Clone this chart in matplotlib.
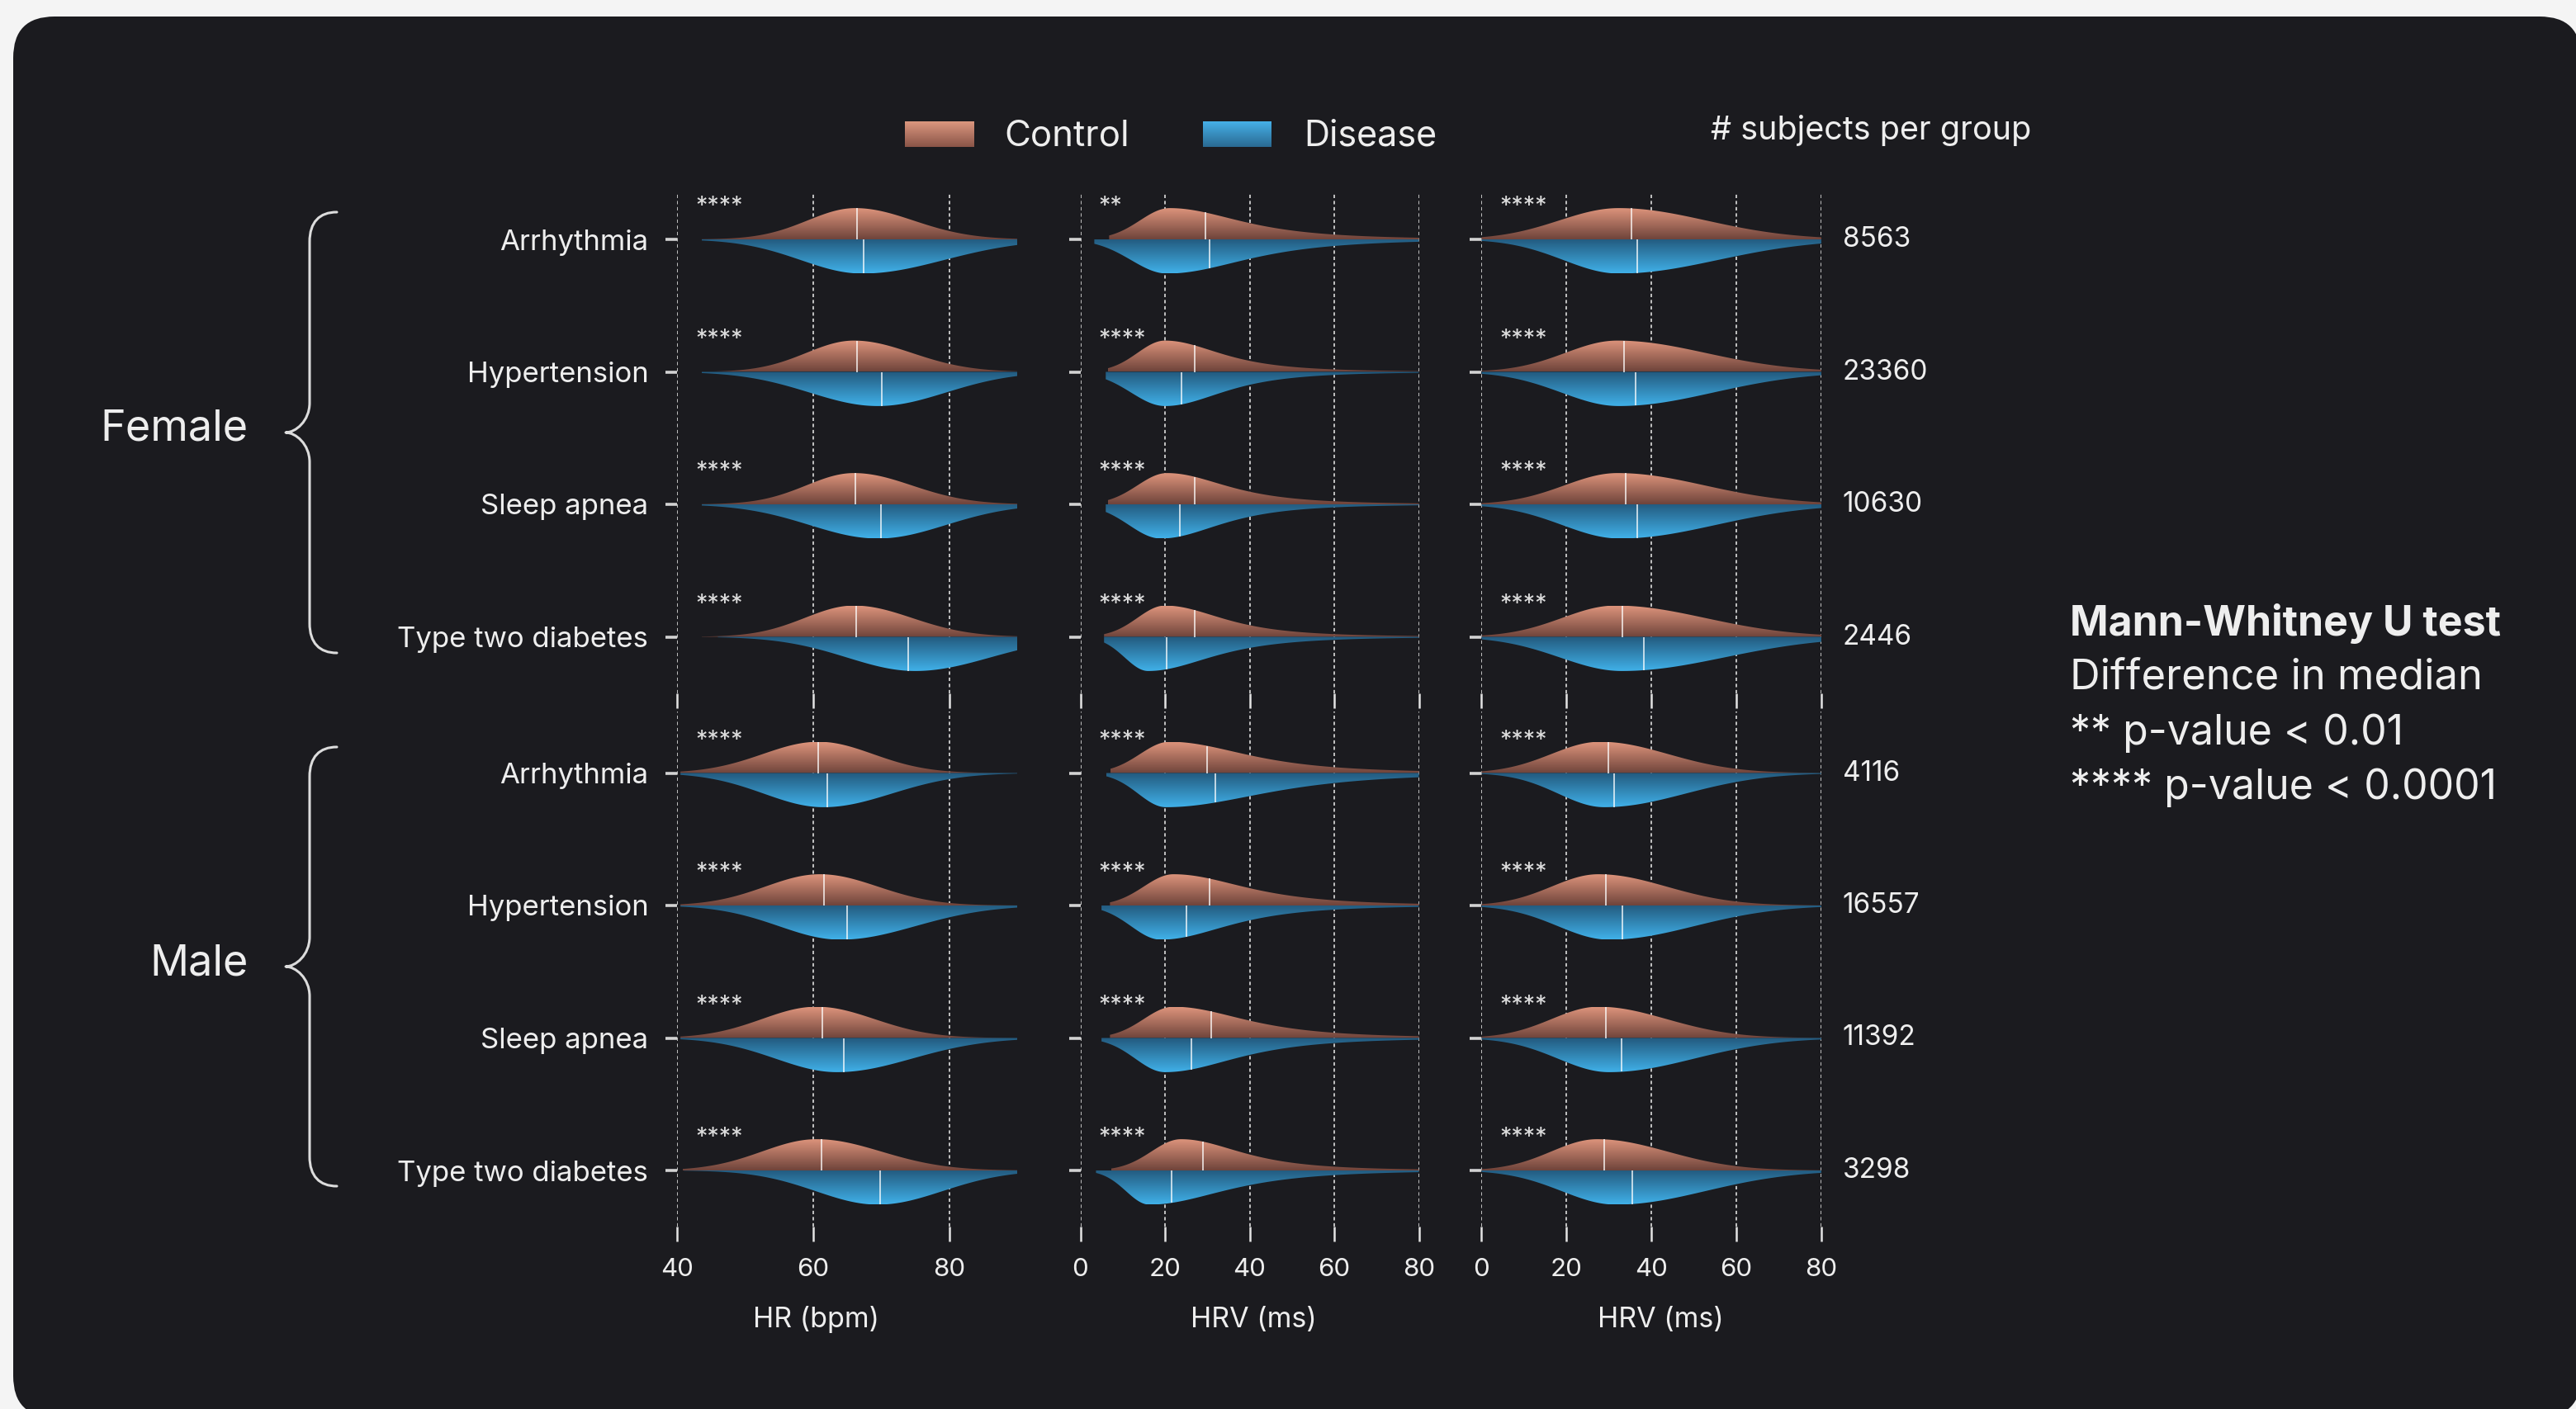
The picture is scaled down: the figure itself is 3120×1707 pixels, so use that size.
import numpy as np
import matplotlib
matplotlib.use("Agg")
import matplotlib.pyplot as plt
from matplotlib.patches import Polygon, FancyBboxPatch, PathPatch
from matplotlib.path import Path
from matplotlib.colors import to_rgb
from matplotlib.transforms import blended_transform_factory

plt.rcParams["font.family"] = ["Inter", "DejaVu Sans"]

# ---------------------------------------------------------------- data
SEXES = ["Female", "Male"]
CONDITIONS = ["Arrhythmia", "Hypertension", "Sleep apnea", "Type two diabetes"]
METRIC_LABELS = ["HR (bpm)", "HRV (ms)", "HRV (ms)"]
METRIC_LIMITS = [(40, 90), (0, 80), (0, 80)]
METRIC_TICKS = [[40, 60, 80], [0, 20, 40, 60, 80], [0, 20, 40, 60, 80]]
RIGHT_TAIL_DF = [np.inf, 2.5, np.inf]

# rows: Female (Arrhythmia, Hypertension, Sleep apnea, T2D), then Male (same order)
SUBJECTS = [8563, 23360, 10630, 2446, 4116, 16557, 11392, 3298]
SIGNIF_HR = ["****"] * 8
SIGNIF_HRV = ["**"] + ["****"] * 7
SIGNIF_HRV2 = ["****"] * 8

# HR (bpm): control
HR_CTRL_MEDIAN = [66.4, 66.4, 66.2, 66.3, 60.8, 61.6, 61.3, 61.2]
HR_CTRL_MODE = [66.2, 66.0, 66.0, 66.0, 60.8, 61.0, 60.5, 60.5]
HR_CTRL_SLEFT = [7.0, 7.0, 7.0, 7.2, 8.2, 8.0, 8.0, 8.0]
HR_CTRL_SRIGHT = [8.5, 8.5, 8.5, 8.5, 8.0, 8.5, 8.5, 9.5]
HR_CTRL_MIN = [43.6, 43.6, 43.6, 43.6, 40.5, 40.5, 40.5, 40.8]
# HR (bpm): disease
HR_DIS_MEDIAN = [67.4, 70.1, 70.0, 74.0, 62.1, 65.0, 64.5, 69.9]
HR_DIS_MODE = [67.2, 69.5, 69.5, 75.0, 61.5, 64.0, 63.5, 69.5]
HR_DIS_SLEFT = [9.0, 10.0, 10.0, 10.0, 8.7, 9.0, 9.0, 9.1]
HR_DIS_SRIGHT = [12.0, 10.0, 10.0, 11.0, 10.0, 11.0, 11.0, 9.5]
HR_DIS_MIN = [43.6, 43.6, 43.6, 46.0, 40.5, 40.5, 40.5, 41.0]

# HRV (ms), first measure: control
HRV_CTRL_MEDIAN = [29.6, 27.0, 27.0, 27.0, 30.0, 30.5, 30.9, 29.0]
HRV_CTRL_MODE = [21.1, 20.0, 20.5, 20.0, 21.1, 22.0, 22.0, 23.8]
HRV_CTRL_SLEFT = [7.0, 6.5, 7.0, 6.5, 7.0, 7.0, 7.0, 7.0]
HRV_CTRL_SRIGHT = [17.8, 14.0, 15.0, 14.5, 19.4, 18.0, 18.0, 15.0]
HRV_CTRL_MIN = [6.8, 6.5, 6.5, 5.6, 7.1, 7.0, 7.0, 7.3]
# HRV (ms), first measure: disease
HRV_DIS_MEDIAN = [30.6, 23.9, 23.5, 20.4, 31.9, 25.0, 26.2, 21.5]
HRV_DIS_MODE = [20.5, 20.0, 19.0, 16.0, 20.2, 19.0, 20.0, 16.3]
HRV_DIS_SLEFT = [8.5, 8.0, 7.5, 5.5, 6.5, 7.0, 7.0, 5.5]
HRV_DIS_SRIGHT = [20.0, 14.7, 15.0, 16.0, 25.0, 17.0, 18.0, 19.0]
HRV_DIS_MIN = [3.3, 6.0, 6.0, 5.6, 6.1, 5.0, 5.0, 3.7]

# HRV (ms), second measure: control
HRV2_CTRL_MEDIAN = [35.2, 33.6, 33.9, 33.1, 29.8, 29.3, 29.3, 28.8]
HRV2_CTRL_MODE = [32.3, 31.9, 32.0, 31.5, 27.9, 27.5, 27.5, 27.2]
HRV2_CTRL_SLEFT = [14.0, 12.2, 12.5, 12.5, 11.5, 11.0, 11.0, 10.8]
HRV2_CTRL_SRIGHT = [20.5, 20.8, 20.5, 21.0, 16.0, 16.0, 16.0, 16.5]
HRV2_CTRL_MIN = [0.0] * 8
# HRV (ms), second measure: disease
HRV2_DIS_MEDIAN = [36.7, 36.2, 36.6, 38.2, 31.2, 33.2, 33.0, 35.4]
HRV2_DIS_MODE = [32.3, 32.3, 32.5, 33.0, 28.9, 30.0, 30.0, 31.6]
HRV2_DIS_SLEFT = [13.0, 13.5, 13.5, 14.5, 10.8, 12.0, 12.0, 12.7]
HRV2_DIS_SRIGHT = [23.2, 22.2, 22.5, 24.0, 19.0, 20.0, 20.0, 21.0]
HRV2_DIS_MIN = [0.0] * 8

CTRL = [
    (HR_CTRL_MEDIAN, HR_CTRL_MODE, HR_CTRL_SLEFT, HR_CTRL_SRIGHT, HR_CTRL_MIN),
    (HRV_CTRL_MEDIAN, HRV_CTRL_MODE, HRV_CTRL_SLEFT, HRV_CTRL_SRIGHT, HRV_CTRL_MIN),
    (HRV2_CTRL_MEDIAN, HRV2_CTRL_MODE, HRV2_CTRL_SLEFT, HRV2_CTRL_SRIGHT, HRV2_CTRL_MIN),
]
DIS = [
    (HR_DIS_MEDIAN, HR_DIS_MODE, HR_DIS_SLEFT, HR_DIS_SRIGHT, HR_DIS_MIN),
    (HRV_DIS_MEDIAN, HRV_DIS_MODE, HRV_DIS_SLEFT, HRV_DIS_SRIGHT, HRV_DIS_MIN),
    (HRV2_DIS_MEDIAN, HRV2_DIS_MODE, HRV2_DIS_SLEFT, HRV2_DIS_SRIGHT, HRV2_DIS_MIN),
]
SIGNIF = [SIGNIF_HR, SIGNIF_HRV, SIGNIF_HRV2]

# ---------------------------------------------------------------- style
W, H, DPI = 3120, 1707, 100
PAGE = "#f4f4f4"
PANEL = "#1b1b1f"
TEXT = "#eeeeee"
CTRL_DARK, CTRL_LIGHT = "#6f443b", "#dc937b"
DIS_DARK, DIS_LIGHT = "#235a7e", "#40b0e8"
H_CTRL, H_DIS = 0.236, 0.258

# pixel layout of the panels
PANEL_X = [(820, 1232), (1308.5, 1718.5), (1794.5, 2206)]
SEX_Y = [(233, 840), (862, 1486)]
FIRST_ROW = [290, 936.5]
ROW_STEP = 160.5


def px_rect(x0, y0, x1, y1):
    return [x0 / W, 1 - y1 / H, (x1 - x0) / W, (y1 - y0) / H]


def half_shape(x, mode, s_left, s_right, df):
    left = np.exp(-0.5 * ((x - mode) / s_left) ** 2)
    z = (x - mode) / s_right
    if np.isinf(df):
        right = np.exp(-0.5 * z ** 2)
    else:
        right = (1 + z ** 2 / df) ** (-(df + 1) / 2)
    return np.where(x < mode, left, right)


def gradient(c0, c1, n=96):
    a, b = np.array(to_rgb(c0)), np.array(to_rgb(c1))
    t = np.linspace(0, 1, n)[:, None]
    rgb = a + (b - a) * t
    return np.repeat(rgb[:, None, :], 2, axis=1)


def draw_half(ax, row, params, k, hi, df, height, sign, c_dark, c_light):
    med, mode, sl, sr, lo = (p[k] for p in params)
    xs = np.linspace(lo, hi, 500)
    ys = row + sign * height * half_shape(xs, mode, sl, sr, df)
    verts = [(lo, row)] + list(zip(xs, ys)) + [(hi, row)]
    poly = Polygon(verts, closed=True, fc="none", ec="none")
    ax.add_patch(poly)
    im = ax.imshow(gradient(c_dark, c_light), extent=(lo, hi, row, row + sign * height),
                   origin="lower", aspect="auto", interpolation="bilinear", zorder=2)
    im.set_clip_path(poly)
    ym = row + sign * height * half_shape(np.array([med]), mode, sl, sr, df)[0]
    ax.plot([med, med], [row, ym], color="white", alpha=0.78, lw=1.3,
            solid_capstyle="butt", zorder=3)


fig = plt.figure(figsize=(W / DPI, H / DPI), dpi=DPI, facecolor=PAGE)

bg = fig.add_axes([0, 0, 1, 1], zorder=0)
bg.set_xlim(0, W)
bg.set_ylim(H, 0)
bg.axis("off")
bg.add_patch(FancyBboxPatch((16, 20), 3110, 1697, boxstyle="round,pad=0,rounding_size=50",
                            fc=PANEL, ec="none"))

for si, sex in enumerate(SEXES):
    y0, y1 = SEX_Y[si]
    top = -(FIRST_ROW[si] - y0) / ROW_STEP
    bottom = 3 + (y1 - (FIRST_ROW[si] + 3 * ROW_STEP)) / ROW_STEP
    for mi in range(3):
        x0, x1 = PANEL_X[mi]
        ax = fig.add_axes(px_rect(x0, y0, x1, y1), zorder=1)
        ax.set_facecolor("none")
        lo_lim, hi_lim = METRIC_LIMITS[mi]
        trans = blended_transform_factory(ax.transAxes, ax.transData)
        for ci in range(4):
            k = si * 4 + ci
            draw_half(ax, ci, CTRL[mi], k, hi_lim, RIGHT_TAIL_DF[mi], H_CTRL, -1,
                      CTRL_DARK, CTRL_LIGHT)
            draw_half(ax, ci, DIS[mi], k, hi_lim, RIGHT_TAIL_DF[mi], H_DIS, +1,
                      DIS_DARK, DIS_LIGHT)
            ax.text(0.054, ci - 0.245, SIGNIF[mi][k], transform=trans, ha="left",
                    va="center", fontsize=20.5, color="#dddddd")
            if mi == 2:
                ax.text(1.063, ci, str(SUBJECTS[k]), transform=trans, ha="left",
                        va="center", fontsize=24, color=TEXT)
        ax.set_xlim(lo_lim, hi_lim)
        ax.set_ylim(bottom, top)
        ax.set_xticks(METRIC_TICKS[mi])
        ax.set_yticks(range(4))
        ax.set_yticklabels(CONDITIONS if mi == 0 else [])
        for s in ax.spines.values():
            s.set_visible(False)
        ax.set_axisbelow(True)
        ax.grid(axis="x", color="#c8c8c8", linestyle=(0, (2.2, 1.8)), linewidth=1.35)
        ax.grid(axis="y", visible=False)
        ax.tick_params(axis="y", length=10, width=2.6, color="#d2d2d2", pad=15,
                       labelsize=25, labelcolor=TEXT)
        ax.tick_params(axis="x", length=13, width=1.8, color="#e4e4e4", pad=14,
                       labelsize=22.5, labelcolor=TEXT, labelbottom=(si == 1))
        if si == 1:
            lx = [0.41, 0.513, 0.526][mi]
            ax.text(lx, -0.181, METRIC_LABELS[mi], transform=ax.transAxes, ha="center",
                    va="center", fontsize=24.5, color=TEXT)

# ---------------------------------------------------------------- annotations
ov = fig.add_axes([0, 0, 1, 1], zorder=2)
ov.set_xlim(0, W)
ov.set_ylim(H, 0)
ov.axis("off")
ov.patch.set_alpha(0)


def brace(ax, x_tip, x_stem, x_point, y_top, y_mid, y_bot):
    c = 26
    verts = [
        (x_tip, y_top),
        (x_stem + 12, y_top), (x_stem, y_top + 12), (x_stem, y_top + c + 10),
        (x_stem, y_mid - c - 10),
        (x_stem, y_mid - 14), (x_point + 12, y_mid), (x_point, y_mid),
        (x_point + 12, y_mid), (x_stem, y_mid + 14), (x_stem, y_mid + c + 10),
        (x_stem, y_bot - c - 10),
        (x_stem, y_bot - 12), (x_stem + 12, y_bot), (x_tip, y_bot),
    ]
    codes = [Path.MOVETO,
             Path.CURVE4, Path.CURVE4, Path.CURVE4,
             Path.LINETO,
             Path.CURVE4, Path.CURVE4, Path.CURVE4,
             Path.CURVE4, Path.CURVE4, Path.CURVE4,
             Path.LINETO,
             Path.CURVE4, Path.CURVE4, Path.CURVE4]
    ax.add_patch(PathPatch(Path(verts, codes), fc="none", ec="#dcdcdc", lw=2.2,
                           capstyle="round", joinstyle="round"))


brace(ov, 408, 375, 346, 257, 524, 791)
brace(ov, 408, 375, 346, 905, 1171, 1437)
ov.text(301, 520, "Female", ha="right", va="center", fontsize=37.5, color=TEXT)
ov.text(301, 1168, "Male", ha="right", va="center", fontsize=37.5, color=TEXT)

# legend swatches
ov.imshow(gradient("#8a5548", "#dc977f"), extent=(1096, 1180, 178, 147), origin="lower",
          aspect="auto", interpolation="bilinear")
ov.imshow(gradient("#2a6a92", "#46b0e8"), extent=(1457, 1540, 178, 147), origin="lower",
          aspect="auto", interpolation="bilinear")
ov.set_xlim(0, W)
ov.set_ylim(H, 0)
ov.text(1216, 165, "Control", ha="left", va="center", fontsize=31.5, color=TEXT)
ov.text(1579, 165, "Disease", ha="left", va="center", fontsize=31, color=TEXT)
ov.text(2072, 158, "# subjects per group", ha="left", va="center", fontsize=28.5, color=TEXT)

ov.text(2507, 755, "Mann-Whitney U test", ha="left", va="center", fontsize=36,
        fontweight="bold", color=TEXT)
ov.text(2507, 821, "Difference in median", ha="left", va="center", fontsize=36.5, color=TEXT)
ov.text(2507, 888, "** p-value < 0.01", ha="left", va="center", fontsize=36, color=TEXT)
ov.text(2507, 954, "**** p-value < 0.0001", ha="left", va="center", fontsize=36, color=TEXT)

fig.savefig("out.png", dpi=DPI, facecolor=PAGE)
